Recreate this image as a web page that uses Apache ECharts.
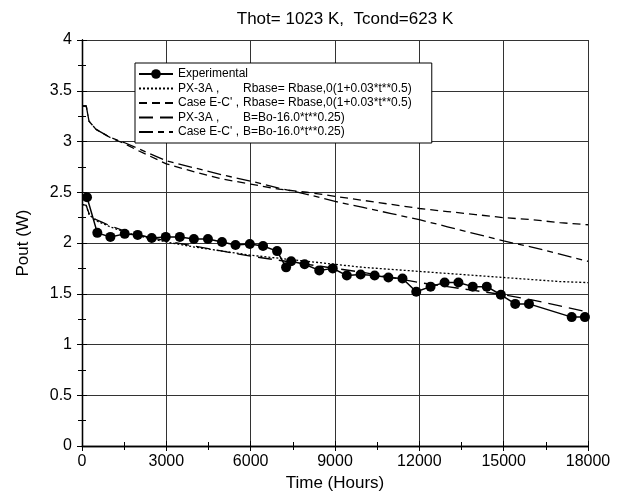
<!DOCTYPE html>
<html>
<head>
<meta charset="utf-8">
<script src="https://cdn.jsdelivr.net/npm/echarts@6/dist/echarts.min.js"></script>
<style>
html, body { margin: 0; padding: 0; background: #fff; }
#chart { width: 624px; height: 498px; }
</style>
</head>
<body>
<div id="chart"></div>
<script>
// experimental points (hours, W)
var expTime = [178, 545, 1010, 1520, 1980, 2480, 2980, 3480, 3980, 4480, 4980, 5460, 5970, 6440, 6940, 7260, 7440, 7920, 8440, 8920, 9420, 9910, 10410, 10900, 11400, 11890, 12400, 12900, 13390, 13900, 14400, 14900, 15410, 15900, 17420, 17890];
var expPout = [2.45, 2.10, 2.06, 2.09, 2.08, 2.05, 2.06, 2.06, 2.04, 2.04, 2.01, 1.98, 1.99, 1.97, 1.92, 1.76, 1.82, 1.79, 1.73, 1.75, 1.68, 1.69, 1.68, 1.66, 1.65, 1.52, 1.57, 1.61, 1.61, 1.57, 1.57, 1.49, 1.40, 1.40, 1.27, 1.27];

// model curves
var modelTime = [0, 150, 250, 500, 750, 1000, 1500, 2000, 3000, 4000, 5000, 6000, 7000, 8000, 9000, 10000, 11000, 12000, 13000, 14000, 15000, 16000, 17000, 18000];
var pxRbase  = [2.38, 2.37, 2.28, 2.22, 2.19, 2.16, 2.11, 2.07, 2.01, 1.96, 1.92, 1.88, 1.85, 1.82, 1.79, 1.76, 1.74, 1.72, 1.70, 1.68, 1.66, 1.64, 1.62, 1.61];
var ecRbase  = [3.35, 3.35, 3.20, 3.12, 3.08, 3.04, 2.98, 2.91, 2.78, 2.70, 2.63, 2.58, 2.53, 2.50, 2.46, 2.42, 2.38, 2.34, 2.31, 2.28, 2.25, 2.23, 2.20, 2.18];
var pxB      = [2.38, 2.37, 2.29, 2.23, 2.20, 2.17, 2.12, 2.08, 2.02, 1.97, 1.92, 1.87, 1.83, 1.79, 1.75, 1.71, 1.66, 1.61, 1.57, 1.53, 1.49, 1.44, 1.38, 1.32];
var ecB      = [3.35, 3.35, 3.20, 3.12, 3.08, 3.04, 2.99, 2.93, 2.81, 2.74, 2.67, 2.61, 2.54, 2.48, 2.41, 2.35, 2.29, 2.23, 2.16, 2.09, 2.02, 1.96, 1.89, 1.82];

var seriesNames = [
	'Experimental',
	"PX-3A ,|Rbase= Rbase,0(1+0.03*t**0.5)",
	"Case E-C' ,|Rbase= Rbase,0(1+0.03*t**0.5)",
	'PX-3A ,|B=Bo-16.0*t**0.25)',
	"Case E-C' ,|B=Bo-16.0*t**0.25)"
];

function pairs(xs, ys) {
	var out = [];
	for (var i = 0; i < xs.length; i++) out.push([xs[i], ys[i]]);
	return out;
}

function modelSeries(name, ys, dash) {
	return {
		name: name,
		type: 'line',
		data: pairs(modelTime, ys),
		symbol: 'none',
		showSymbol: false,
		lineStyle: { color: '#000', width: 1.3, type: dash },
		itemStyle: { color: '#000' },
		z: 2
	};
}

var legendData = seriesNames.map(function(n, i) {
	return i === 0 ? { name: n } : { name: n, itemStyle: { opacity: 0 } };
});

var font = 'Liberation Sans, Arial, Helvetica, sans-serif';
var myChart = echarts.init(document.getElementById('chart'));
myChart.setOption({
	animation: false,
	backgroundColor: '#fff',
	title: {
		text: 'Thot= 1023 K,  Tcond=623 K',
		left: 340,
		top: 6,
		textAlign: 'center',
		textStyle: { fontFamily: font, fontSize: 17, fontWeight: 'normal', color: '#000' }
	},
	grid: { left: 82, right: 36, top: 40, bottom: 52, show: false },
	legend: {
		orient: 'vertical',
		left: 135,
		top: 63,
		padding: [5, 20, 5, 3],
		itemGap: 2.5,
		itemWidth: 34,
		itemHeight: 12,
		backgroundColor: '#fff',
		borderColor: '#000',
		borderWidth: 1,
		data: legendData,
		formatter: function(name) {
			var p = name.split('|');
			if (p.length < 2) return '{a|' + name + '}';
			return '{a|' + p[0] + '}{b|' + p[1] + '}';
		},
		textStyle: {
			fontFamily: font,
			fontSize: 12,
			color: '#000',
			rich: {
				a: { fontFamily: font, fontSize: 12, color: '#000', width: 65 },
				b: { fontFamily: font, fontSize: 12, color: '#000' }
			}
		}
	},
	xAxis: [{
		type: 'value',
		min: 0,
		max: 18000,
		interval: 3000,
		name: 'Time (Hours)',
		nameLocation: 'middle',
		nameGap: 29,
		nameTextStyle: { fontFamily: font, fontSize: 17, color: '#000' },
		axisLine: { lineStyle: { color: '#000', width: 1.3 } },
		axisTick: { inside: true, length: 5, lineStyle: { color: '#000' } },
		minorTick: { show: true, splitNumber: 2, length: 4, lineStyle: { color: '#000' } },
		axisLabel: {
			fontFamily: font, fontSize: 16, color: '#000', margin: 8,
			formatter: function(v) { return String(v); }
		},
		splitLine: { show: true, lineStyle: { color: '#333', width: 1 } }
	}, {
		type: 'value',
		position: 'top',
		min: 0,
		max: 18000,
		interval: 3000,
		axisLine: { show: true, lineStyle: { color: '#000', width: 1.3 } },
		axisTick: { inside: true, length: 5, lineStyle: { color: '#000' } },
		minorTick: { show: true, splitNumber: 2, length: 4, lineStyle: { color: '#000' } },
		axisLabel: { show: false },
		splitLine: { show: false }
	}],
	yAxis: [{
		type: 'value',
		min: 0,
		max: 4,
		interval: 0.5,
		name: 'Pout (W)',
		nameLocation: 'middle',
		nameGap: 50,
		nameTextStyle: { fontFamily: font, fontSize: 17, color: '#000' },
		axisLine: { show: true, lineStyle: { color: '#000', width: 1.3 } },
		axisTick: { inside: true, length: 5, lineStyle: { color: '#000' } },
		minorTick: { show: true, splitNumber: 2, length: 4, lineStyle: { color: '#000' } },
		axisLabel: { fontFamily: font, fontSize: 16, color: '#000', margin: 10 },
		splitLine: { show: true, lineStyle: { color: '#333', width: 1 } }
	}, {
		type: 'value',
		position: 'right',
		min: 0,
		max: 4,
		interval: 0.5,
		axisLine: { show: true, lineStyle: { color: '#000', width: 1.3 } },
		axisTick: { inside: true, length: 5, lineStyle: { color: '#000' } },
		minorTick: { show: true, splitNumber: 2, length: 4, lineStyle: { color: '#000' } },
		axisLabel: { show: false },
		splitLine: { show: false }
	}],
	series: [{
		name: seriesNames[0],
		type: 'line',
		data: pairs(expTime, expPout),
		symbol: 'circle',
		symbolSize: 10,
		lineStyle: { color: '#000', width: 1.5 },
		itemStyle: { color: '#000' },
		z: 3
	},
	modelSeries(seriesNames[1], pxRbase, [2, 2]),
	modelSeries(seriesNames[2], ecRbase, [8, 5]),
	modelSeries(seriesNames[3], pxB, [14, 7]),
	modelSeries(seriesNames[4], ecB, [14, 5, 6, 5])
	]
});
</script>
</body>
</html>
